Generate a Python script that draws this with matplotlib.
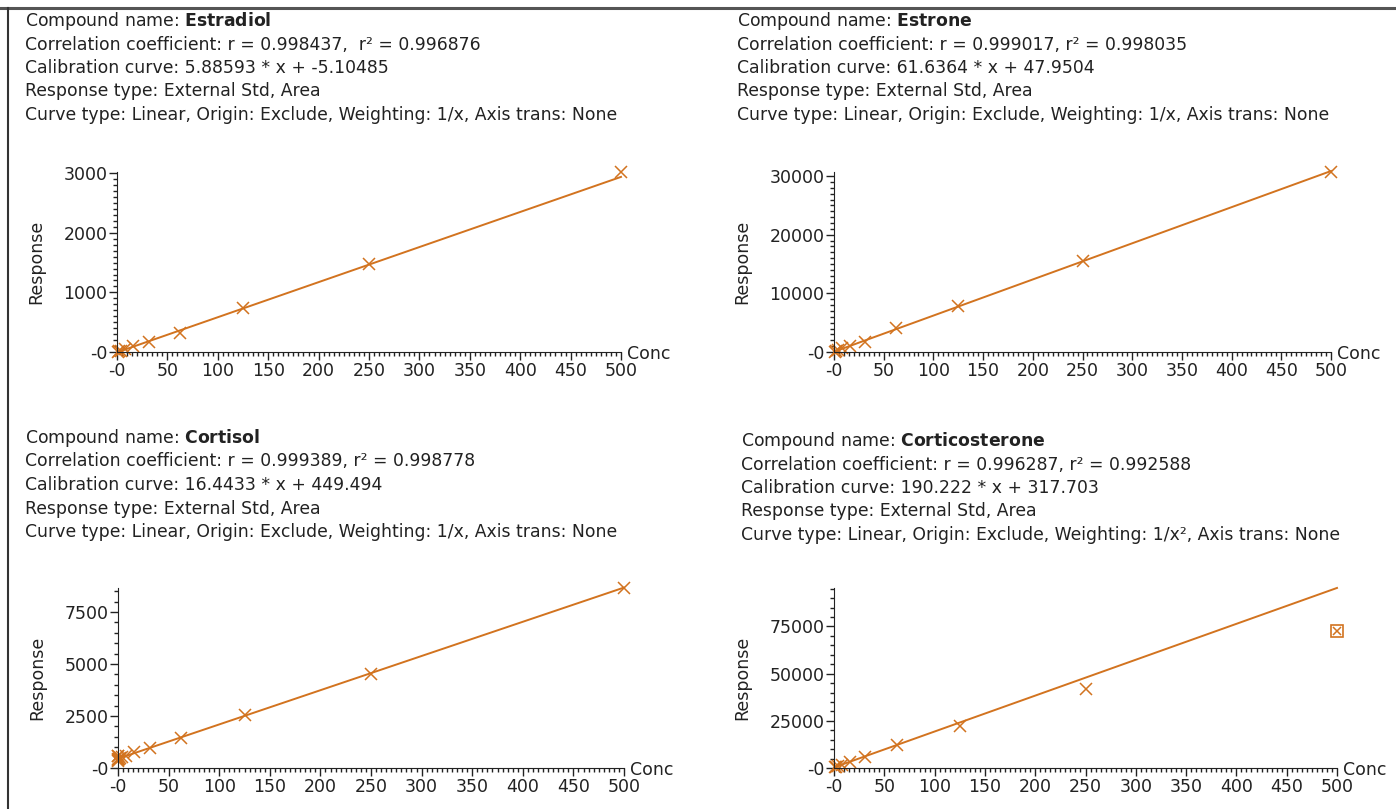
import numpy as np
import matplotlib.pyplot as plt
from matplotlib.ticker import MultipleLocator, FuncFormatter

# =============================================================================
# Datos
# =============================================================================

conc = [500, 250, 125, 62.5, 31.25, 15.625, 7.8125, 3.90625, 1.953125, 0.9765625]

names = ["Estradiol", "Estrone", "Cortisol", "Corticosterone"]
r_vals = ["0.998437", "0.999017", "0.999389", "0.996287"]
r2_vals = ["0.996876", "0.998035", "0.998778", "0.992588"]
slopes = [5.88593, 61.6364, 16.4433, 190.222]
intercepts = [-5.10485, 47.9504, 449.494, 317.703]
weights = ["1/x", "1/x", "1/x", "1/x²"]
r_sep = [",  ", ", ", ", ", ", "]

resp_estradiol = [3020, 1470, 740, 320, 170, 95, 50, 25, 12, 6]
resp_estrone = [30700, 15500, 7800, 4100, 1750, 1100, 600, 300, 150, 80]
resp_cortisol = [8650, 4500, 2550, 1450, 950, 750, 580, 520, 480, 450]
resp_cortico = [72500, 42000, 22500, 12000, 6000, 3300, 1800, 900, 600, 400]

# puntos extra cerca de cero (cortisol)
conc_extra = [0.49, 0.24, 0.12, 0.49, 0.24]
resp_extra = [380, 560, 420, 600, 330]

responses = [resp_estradiol, resp_estrone, resp_cortisol, resp_cortico]

y_major = [1000, 10000, 2500, 25000]
y_minor = [100, 1000, 500, 5000]
y_top = [3020, 30700, 8650, 95400]

# cajas de ejes en pixeles (izq, der, abajo, arriba)
boxes = [(117, 621, 352, 172), (834, 1331, 352, 172),
         (118, 624, 768, 588), (834, 1337, 768, 588)]
text_pos = [(25, 21), (737, 21), (25, 438), (741, 441)]

color = '#D2731F'
W, H = 1396, 809

# =============================================================================
# Figura
# =============================================================================

fig = plt.figure(figsize=(W / 100, H / 100), dpi=100)
plt.rcParams['mathtext.fontset'] = 'dejavusans'

# marco
fig.add_artist(plt.Line2D([0, 1], [1 - 8 / H, 1 - 8 / H], color='#555555', lw=2.2))
fig.add_artist(plt.Line2D([8 / W, 8 / W], [0, 1 - 8 / H], color='#333333', lw=1.5))

fmt = FuncFormatter(lambda v, p: '-0' if v == 0 else f'{v:g}')

for k in range(4):
    l, r, b, t = boxes[k]
    ax = fig.add_axes([l / W, 1 - b / H, (r - l) / W, (b - t) / H])

    # encabezado
    tx, ty = text_pos[k]
    lines = [r"Compound name: $\bf{" + names[k] + "}$",
             f"Correlation coefficient: r = {r_vals[k]}{r_sep[k]}r² = {r2_vals[k]}",
             f"Calibration curve: {slopes[k]:g} * x + {intercepts[k]:g}",
             "Response type: External Std, Area",
             f"Curve type: Linear, Origin: Exclude, Weighting: {weights[k]}, Axis trans: None"]
    for i, s in enumerate(lines):
        fig.text(tx / W, 1 - (ty + 23.5 * i) / H, s, fontsize=12.4, va='center',
                 ha='left', color='#222222')

    # curva
    xs = np.array([0, 500])
    ax.plot(xs, slopes[k] * xs + intercepts[k], color=color, lw=1.4, clip_on=False)

    x = np.array(conc)
    y = np.array(responses[k])
    if k == 3:
        ax.plot(x[1:], y[1:], 'x', color=color, ms=9, mew=1.1, clip_on=False)
        ax.plot(x[:1], y[:1], 'x', color=color, ms=6, mew=1.1, clip_on=False)
        ax.plot(x[:1], y[:1], 's', mfc='none', mec=color, ms=9, mew=1.2, clip_on=False)
    else:
        ax.plot(x, y, 'x', color=color, ms=9, mew=1.1, clip_on=False)
    if k == 2:
        ax.plot(conc_extra, resp_extra, 'x', color=color, ms=9, mew=1.1, clip_on=False)

    ax.set_xlim(0, 500)
    ax.set_ylim(0, y_top[k])
    ax.xaxis.set_major_locator(MultipleLocator(50))
    ax.xaxis.set_minor_locator(MultipleLocator(5))
    ax.yaxis.set_major_locator(MultipleLocator(y_major[k]))
    ax.yaxis.set_minor_locator(MultipleLocator(y_minor[k]))
    ax.xaxis.set_major_formatter(fmt)
    ax.yaxis.set_major_formatter(fmt)
    ax.tick_params(which='major', length=6, width=1, labelsize=12.5, pad=1, colors='#222222')
    ax.tick_params(which='minor', length=3, width=1, colors='#222222')

    ax.spines['top'].set_visible(False)
    ax.spines['right'].set_visible(False)
    ax.spines['left'].set_color('#222222')
    ax.spines['bottom'].set_color('#222222')

    ax.set_ylabel("Response", fontsize=12.5, color='#222222', labelpad=13)
    ax.text(1.012, -0.01, "Conc", transform=ax.transAxes, fontsize=12.5,
            ha='left', va='center', color='#222222')

fig.savefig('out.png', dpi=100)
